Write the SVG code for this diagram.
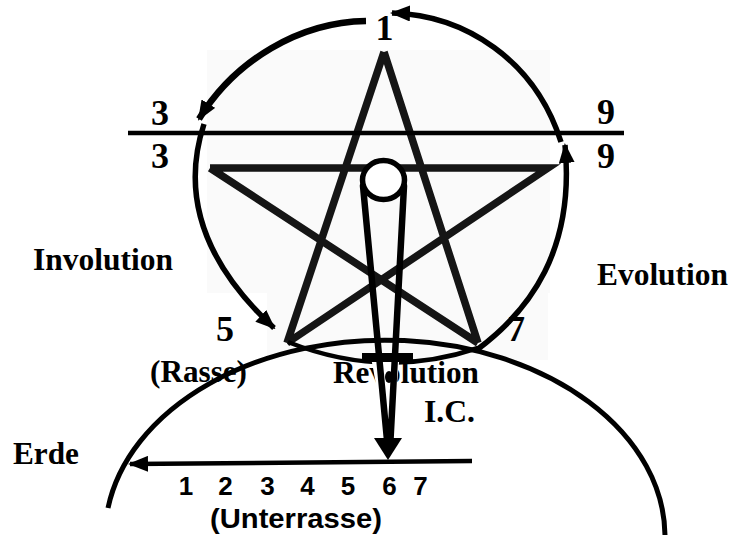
<svg xmlns="http://www.w3.org/2000/svg" width="731" height="535" viewBox="0 0 731 535">
  <style>
    .ser { font-family: "Liberation Serif", "Times New Roman", serif; font-weight: bold; fill: #000; }
    .dig { font-size: 36px; text-anchor: middle; }
    .lbl { font-size: 31px; }
    .san { font-family: "Liberation Sans", Arial, sans-serif; font-weight: bold; fill: #000; }
    .ln { fill: none; stroke: #000; stroke-linecap: butt; }
    .star { fill: none; stroke: #151515; stroke-width: 7.5; stroke-linejoin: miter; }
  </style>
  <defs>
    <marker id="ah" markerUnits="userSpaceOnUse" markerWidth="20" markerHeight="16" viewBox="0 0 20 16" refX="18" refY="8" orient="auto">
      <path d="M0,0 L20,8 L0,16 z" fill="#000"/>
    </marker>
  </defs>
  <rect width="731" height="535" fill="#fff"/>

  <g id="pentagram">
    <rect x="207" y="50" width="343" height="243" fill="#fafafa"/>
    <rect x="267" y="293" width="281" height="67" fill="#fafafa"/>
    <path class="star" d="M384,52 L287,343 M384,52 L478,343 M210,168 L548,168 L287,343 M210,168 L478,343"/>
  </g>

  <g id="labels">
    <text class="ser dig" x="384.5" y="40">1</text>
    <text class="ser dig" x="160" y="125">3</text>
    <text class="ser dig" x="160" y="168">3</text>
    <text class="ser dig" x="606" y="124">9</text>
    <text class="ser dig" x="606" y="168">9</text>
    <text class="ser dig" x="225" y="341">5</text>
    <text class="ser dig" x="516" y="341">7</text>
    <text class="ser lbl" x="33" y="270" textLength="140" lengthAdjust="spacingAndGlyphs">Involution</text>
    <text class="ser lbl" x="597" y="285" textLength="131" lengthAdjust="spacingAndGlyphs">Evolution</text>
    <text class="ser lbl" x="150" y="382" textLength="97" lengthAdjust="spacingAndGlyphs">(Rasse)</text>
    <text class="ser lbl" x="333" y="383" textLength="146" lengthAdjust="spacingAndGlyphs">Revolution</text>
    <text class="ser lbl" x="424" y="422" textLength="51" lengthAdjust="spacingAndGlyphs">I.C.</text>
    <text class="ser lbl" x="13" y="464" textLength="66" lengthAdjust="spacingAndGlyphs">Erde</text>
    <g class="san" font-size="26" text-anchor="middle">
      <text x="186" y="495">1</text>
      <text x="225.5" y="495">2</text>
      <text x="267.5" y="495">3</text>
      <text x="307.5" y="495">4</text>
      <text x="348" y="495">5</text>
      <text x="389.5" y="495">6</text>
      <text x="420.5" y="495">7</text>
    </g>
    <text class="san" font-size="28" x="210" y="528" textLength="172" lengthAdjust="spacingAndGlyphs">(Unterrasse)</text>
  </g>

  <g id="earth">
    <path class="ln" stroke-width="5" d="M108,508 A280,196.5 0 0 1 665,535"/>
  </g>

  <g id="connectors">
    <path class="ln" stroke-width="4.5" d="M128,133 H624"/>
    <path class="ln" stroke-width="6.5" marker-end="url(#ah)" d="M366,21 C300,22 235,60 199,119"/>
    <path class="ln" stroke-width="5.5" marker-end="url(#ah)" d="M204,124 C184,185 195,255 274,328"/>
    <path class="ln" stroke-width="5.5" marker-end="url(#ah)" d="M478,349 C530,310 575,250 565,145"/>
    <path class="ln" stroke-width="5.5" marker-end="url(#ah)" d="M561,142 C535,60 465,15 392,13"/>
    <path class="ln" stroke-width="4.5" d="M288,342 Q383,380 478,348"/>
    <path class="ln" stroke-width="4.5" marker-end="url(#ah)" d="M472,461 L130,464"/>
  </g>

  <g id="key">
    <polygon points="370,352 400,352 392,438 386,438" fill="#fff"/>
    <polygon points="363,186 404,186 390.5,440 387,440" fill="none" stroke="#000" stroke-width="6.5" stroke-linejoin="round"/>
    <rect x="362" y="353" width="51" height="9" fill="#000"/>
    <ellipse cx="389" cy="377" rx="4" ry="6" fill="#000"/>
    <polygon points="374,438 402,438 388,460" fill="#000"/>
    <ellipse cx="383.5" cy="180" rx="21" ry="19.5" fill="#fff" stroke="#000" stroke-width="5.5"/>
  </g>
</svg>
